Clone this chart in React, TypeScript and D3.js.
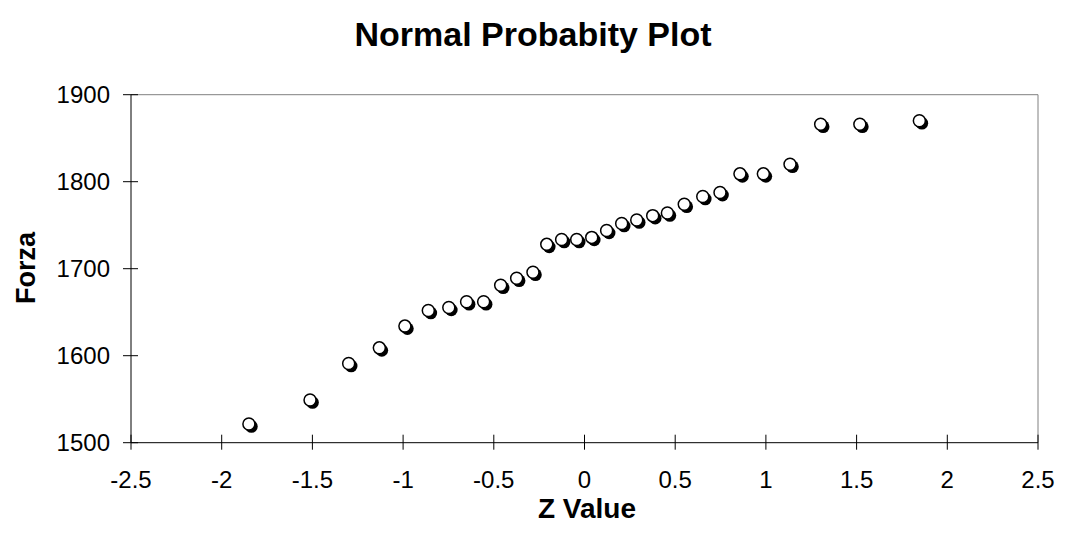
import React from "react";
import * as d3 from "d3";

const zValues = [
  -1.85, -1.513, -1.3, -1.131, -0.99, -0.861, -0.748, -0.65, -0.556, -0.462,
  -0.374, -0.284, -0.208, -0.126, -0.043, 0.04, 0.122, 0.205, 0.288, 0.376,
  0.457, 0.55, 0.652, 0.747, 0.857, 0.986, 1.133, 1.302, 1.518, 1.846,
];
const forza = [
  1521.5, 1549, 1591, 1609, 1634, 1652, 1655.5, 1662, 1662, 1681,
  1689, 1696, 1728, 1733.5, 1733.5, 1736, 1744, 1752, 1756, 1761,
  1764, 1774, 1783, 1787.5, 1809, 1809, 1820, 1866, 1866, 1870,
];
const xTicks = [-2.5, -2, -1.5, -1, -0.5, 0, 0.5, 1, 1.5, 2, 2.5];
const yTicks = [1500, 1600, 1700, 1800, 1900];
const title = "Normal Probabity Plot";
const xTitle = "Z Value";
const yTitle = "Forza";

const W = 1070;
const H = 537;
const left = 131;
const right = 1038;
const top = 94.7;
const bottom = 442.7;
const font = "'Liberation Sans', Arial, sans-serif";

export default function App() {
  const x = d3.scaleLinear().domain([-2.5, 2.5]).range([left, right]);
  const y = d3.scaleLinear().domain([1500, 1900]).range([bottom, top]);
  const pts = zValues.map((z, i) => ({ z, v: forza[i] }));
  return (
    <svg
      width={W}
      height={H}
      style={{ position: "absolute", left: 0, top: 0, background: "#fff" }}
    >
      <text
        x={533}
        y={46}
        textAnchor="middle"
        fontFamily={font}
        fontWeight="bold"
        fontSize={34}
      >
        {title}
      </text>
      {/* plot border top/right */}
      <line x1={left} x2={right} y1={top} y2={top} stroke="#808080" strokeWidth={1} />
      <line x1={right} x2={right} y1={top} y2={bottom} stroke="#808080" strokeWidth={1} />
      {/* axes */}
      <line x1={left} x2={left} y1={top} y2={bottom} stroke="#000" strokeWidth={1} />
      <line x1={left} x2={right} y1={bottom} y2={bottom} stroke="#000" strokeWidth={1} />
      {yTicks.map((t) => (
        <g key={"y" + t}>
          <line x1={left - 8} x2={left + 7} y1={y(t)} y2={y(t)} stroke="#000" strokeWidth={1} />
          <text
            x={110}
            y={y(t)}
            dy="0.35em"
            textAnchor="end"
            fontFamily={font}
            fontSize={24}
          >
            {t}
          </text>
        </g>
      ))}
      {xTicks.map((t) => (
        <g key={"x" + t}>
          <line x1={x(t)} x2={x(t)} y1={bottom - 8} y2={bottom + 7} stroke="#000" strokeWidth={1} />
          <text
            x={x(t)}
            y={488}
            textAnchor="middle"
            fontFamily={font}
            fontSize={24}
          >
            {t}
          </text>
        </g>
      ))}
      <text
        x={587}
        y={518}
        textAnchor="middle"
        fontFamily={font}
        fontWeight="bold"
        fontSize={28}
      >
        {xTitle}
      </text>
      <text
        transform={`translate(35, 268) rotate(-90)`}
        textAnchor="middle"
        fontFamily={font}
        fontWeight="bold"
        fontSize={27}
      >
        {yTitle}
      </text>
      {pts.map((p, i) => (
        <g key={"p" + i}>
          <circle cx={x(p.z) + 2.5} cy={y(p.v) + 2.5} r={6.3} fill="#000" />
          <circle cx={x(p.z)} cy={y(p.v)} r={6} fill="#fff" stroke="#000" strokeWidth={1.5} />
        </g>
      ))}
    </svg>
  );
}
